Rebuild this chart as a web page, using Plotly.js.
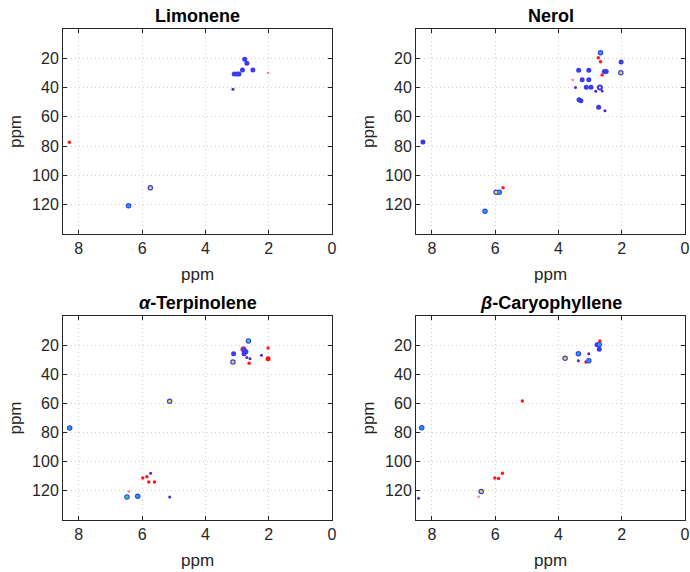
<!DOCTYPE html>
<html><head><meta charset="utf-8">
<script src="https://cdn.plot.ly/plotly-3.0.1.min.js"></script>
<style>html,body{margin:0;padding:0;background:#fff}#chart{width:690px;height:572px}</style>
</head><body><div id="chart"></div>
<script>
// Peak lists: 1H shift (ppm), 13C shift (ppm), peak kind
const titles = ['Limonene', 'Nerol', '<i>α</i>-Terpinolene', '<i>β</i>-Caryophyllene'];
const xTicks = [8, 6, 4, 2, 0];
const yTicks = [20, 40, 60, 80, 100, 120];

const limX = [2.76, 2.69, 2.83, 2.50, 3.09, 3.00, 2.94, 3.13, 2.02, 8.30, 5.74, 6.43];
const limY = [20.7, 23.4, 28.0, 28.0, 30.7, 30.7, 30.7, 41.2, 30.0, 77.4, 108.4, 120.7];
const limK = ['pos','pos','pos','pos','pos','pos','pos','weak','negweak','neg','max','strong'];

const nerX = [2.67, 2.74, 2.67, 2.02, 3.36, 3.04, 2.55, 2.49, 2.03, 2.62, 3.55, 3.25, 3.04, 3.46, 3.12, 2.97, 2.69, 2.62, 2.82, 3.35, 3.29, 2.73, 2.53, 8.28, 5.75, 5.97, 5.87, 6.32];
const nerY = [16.2, 19.6, 22.3, 22.5, 28.2, 28.2, 29.1, 29.1, 29.8, 31.4, 34.8, 34.6, 34.6, 40.0, 39.8, 39.8, 40.0, 42.3, 42.5, 48.3, 49.0, 53.5, 55.8, 77.2, 108.4, 111.5, 111.5, 124.5];
const nerK = ['strong','neg','neg','pos','pos','pos','pos','pos','max','neg','negweak','pos','pos','weak','pos','pos','ring','weak','weak','pos','pos','pos','weak','pos','neg','max','strong','strong'];

const terX = [2.64, 2.80, 2.72, 2.76, 2.78, 2.02, 2.02, 3.11, 3.13, 2.69, 2.59, 2.23, 2.62, 5.13, 8.29, 5.73, 5.85, 5.98, 5.79, 5.61, 6.42, 6.48, 6.14, 5.13];
const terY = [17.1, 22.8, 24.6, 24.0, 26.0, 21.9, 29.4, 26.0, 31.5, 28.5, 29.4, 26.9, 32.4, 58.6, 76.9, 108.0, 110.3, 111.2, 113.9, 113.9, 120.5, 124.2, 123.7, 124.2];
const terK = ['green','mixed','pos','pos','pos','neg','negbig','pos','max','weak','weak','weak','neg','max','strong','weak','neg','neg','neg','neg','negweak','green','strong','weak'];

const carX = [2.69, 2.71, 2.78, 2.71, 3.37, 3.04, 3.79, 3.37, 3.13, 3.04, 5.14, 8.32, 5.77, 6.01, 5.89, 6.44, 6.52, 8.42];
const carY = [17.1, 19.6, 19.8, 22.8, 26.0, 26.0, 29.0, 30.8, 31.5, 30.8, 58.4, 76.7, 108.0, 111.2, 111.5, 120.5, 124.0, 125.0];
const carK = ['neg','strong','pos','pos','strong','weak','max','weak','neg','strong','neg','strong','neg','neg','neg','max','negweak','weak'];

const panels = [[limX, limY, limK], [nerX, nerY, nerK], [terX, terY, terK], [carX, carY, carK]];

// kind -> [outer color, outer size, core color or null, core size]
const style = {
  pos:     ['#3a3aee', 5, null, 0],
  weak:    ['#5226cc', 3, null, 0],
  neg:     ['#ff1a1a', 3.5, null, 0],
  negweak: ['#ff7a7a', 2.5, null, 0],
  negbig:  ['#ff1010', 5, null, 0],
  mixed:   ['#d8305a', 6, '#3a3aee', 3.5],
  strong:  ['#3a3aee', 5.5, '#1e9cf0', 3.5],
  green:   ['#3a3aee', 5.5, '#34c8a0', 3.5],
  max:     ['#3a3aee', 5.5, '#e6e02a', 3],
  ring:    ['#3a3aee', 6, '#ffffff', 2]
};

const font = 'Liberation Sans, Arial, Helvetica, sans-serif';
const dom = {
  x: [[0.0913, 0.4812], [0.6029, 0.9928]],
  y: [[0.5909, 0.9493], [0.0909, 0.4476]]
};

const data = [];
const layout = {
  width: 690, height: 572,
  margin: {l: 0, r: 0, t: 0, b: 0},
  paper_bgcolor: '#fff', plot_bgcolor: '#fff',
  showlegend: false,
  font: {family: font, color: '#262626', size: 16},
  annotations: []
};

panels.forEach((p, i) => {
  const [xs, ys, ks] = p;
  const n = i + 1;
  const xa = n === 1 ? 'x' : 'x' + n, ya = n === 1 ? 'y' : 'y' + n;
  data.push({
    type: 'scatter', mode: 'markers', xaxis: xa, yaxis: ya, x: xs, y: ys,
    marker: {color: ks.map(k => style[k][0]), size: ks.map(k => style[k][1]), opacity: 1, line: {width: 0}},
    hoverinfo: 'x+y'
  });
  const cx = [], cy = [], cc = [], cs = [];
  ks.forEach((k, j) => { if (style[k][2]) { cx.push(xs[j]); cy.push(ys[j]); cc.push(style[k][2]); cs.push(style[k][3]); } });
  data.push({
    type: 'scatter', mode: 'markers', xaxis: xa, yaxis: ya, x: cx, y: cy,
    marker: {color: cc, size: cs, opacity: 1, line: {width: 0}}, hoverinfo: 'skip'
  });
  const col = i % 2, row = Math.floor(i / 2);
  const axCommon = {
    showline: true, linecolor: '#262626', linewidth: 1, mirror: 'ticks',
    ticks: 'inside', ticklen: 4, tickcolor: '#262626',
    showgrid: true, gridcolor: '#d0d0d0', griddash: '1px,3px', gridwidth: 1,
    zeroline: false, tickfont: {size: 16, family: font, color: '#262626'}
  };
  layout['xaxis' + (n === 1 ? '' : n)] = Object.assign({}, axCommon, {
    domain: dom.x[col], anchor: ya, range: [8.5, 0], tickvals: xTicks,
    title: {text: 'ppm', font: {size: 17, family: font, color: '#262626'}, standoff: 11}
  });
  layout['yaxis' + (n === 1 ? '' : n)] = Object.assign({}, axCommon, {
    domain: dom.y[row], anchor: xa, range: [140, 0], tickvals: yTicks,
    title: {text: 'ppm', font: {size: 17, family: font, color: '#262626'}, standoff: 6}
  });
  layout.annotations.push({
    text: '<b>' + titles[i] + '</b>', xref: xa + ' domain', yref: ya + ' domain',
    x: 0.5, y: 1, xanchor: 'center', yanchor: 'bottom', yshift: 1, showarrow: false,
    font: {size: 18, family: font, color: '#000'}
  });
});

Plotly.newPlot('chart', data, layout, {displayModeBar: false, staticPlot: true});
</script></body></html>
